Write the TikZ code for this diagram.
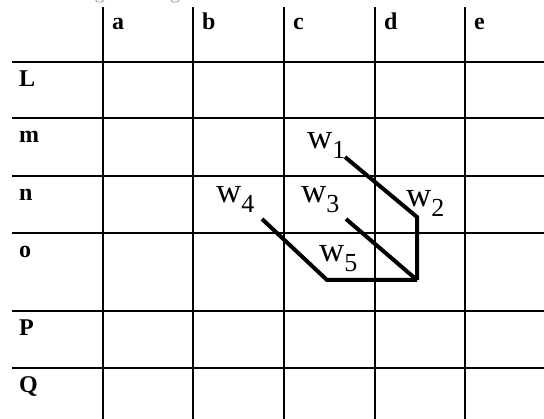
\documentclass[tikz,border=0pt]{standalone}
\usepackage{fontspec}
\setmainfont{Liberation Serif}

\tikzset{
  gridline/.style={line width=2pt},
  seg/.style={line width=4pt},
  head/.style={anchor=base west, inner sep=0pt, font=\fontsize{24}{24}\selectfont\bfseries},
  wlab/.style={anchor=base west, inner sep=0pt, font=\fontsize{35}{35}\selectfont},
  caption/.style={anchor=base west, inner sep=0pt, text=gray!70, font=\fontsize{21}{21}\selectfont},
}
\newcommand{\wsub}[1]{w\raisebox{-10pt}{\fontsize{26}{26}\selectfont #1}}

\begin{document}
\begin{tikzpicture}[x=1pt, y=-1pt]
    \useasboundingbox (0,0) rectangle (544,419);

    % Caption, cut off by the top edge
    \begin{scope}
      \clip (0,0) rectangle (544,419);
      \node[caption] (cap) at (22,-1) {Word Segment Signal};
    \end{scope}

    % Grid
    \foreach \y in {62,118,176,233,311,368}
      \draw[gridline] (12,\y) -- (544,\y);
    \foreach \x in {103,193,284,375,465}
      \draw[gridline] (\x,7) -- (\x,419);

    % Column and row labels
    \foreach \x/\t in {103/a,193/b,284/c,375/d,465/e}
      \node[head] (col-\t) at (\x+9,30) {\t};
    \foreach \y/\t in {62/L,118/m,176/n,233/o,311/P,368/Q}
      \node[head] (row-\t) at (19,\y+25) {\t};

    % Segment end points
    \coordinate (s1) at (345,157);
    \coordinate (j2) at (417,217);
    \coordinate (k)  at (417,280);
    \coordinate (s3) at (346,219);
    \coordinate (s4) at (262,219);
    \coordinate (j5) at (327,280);

    % Segments
    \draw[seg] (s1) -- (j2) -- (k);
    \draw[seg] (s3) -- (k);
    \draw[seg] (s4) -- (j5) -- (k);

    % Segment labels
    \node[wlab] (w1) at (307,149) {\wsub{1}};
    \node[wlab] (w2) at (406,207) {\wsub{2}};
    \node[wlab] (w3) at (301,203) {\wsub{3}};
    \node[wlab] (w4) at (216,203) {\wsub{4}};
    \node[wlab] (w5) at (319,262) {\wsub{5}};
\end{tikzpicture}
\end{document}
